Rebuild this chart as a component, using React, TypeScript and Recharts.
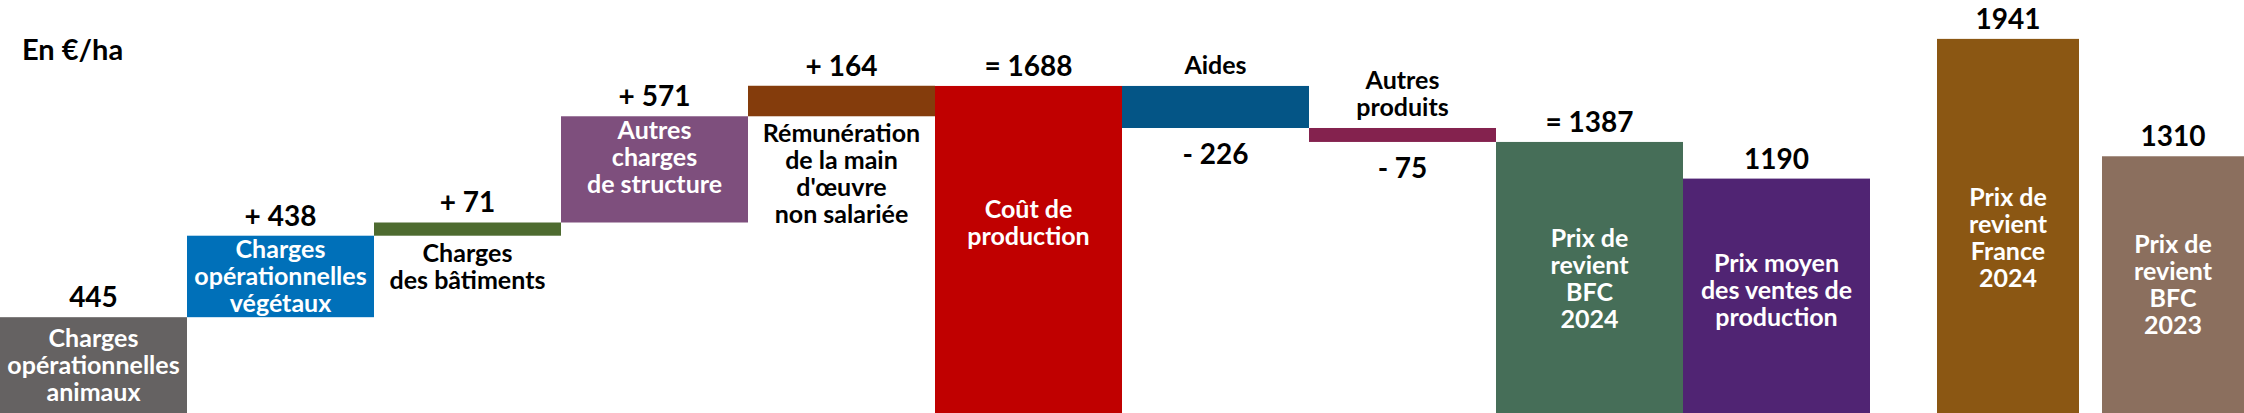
import React from "react";
import { BarChart, Bar, XAxis, YAxis } from "recharts";

// waterfall part (en €/ha)
const categories = [
  "Charges\nopérationnelles\nanimaux",
  "Charges\nopérationnelles\nvégétaux",
  "Charges\ndes bâtiments",
  "Autres\ncharges\nde structure",
  "Rémunération\nde la main\nd'œuvre\nnon salariée",
  "Coût de\nproduction",
  "Aides",
  "Autres\nproduits",
  "Prix de\nrevient\nBFC\n2024",
  "Prix moyen\ndes ventes de\nproduction",
];
const values = [445, 438, 71, 571, 164, 1688, -226, -75, 1387, 1190];
const isTotal = [true, false, false, false, false, true, false, false, true, true];
const valueLabels = ["445", "+ 438", "+ 71", "+ 571", "+ 164", "= 1688", "- 226", "- 75", "= 1387", "1190"];

// comparison bars
const compareCategories = ["Prix de\nrevient\nFrance\n2024", "Prix de\nrevient\nBFC\n2023"];
const compareValues = [1941, 1310];
const compareLabels = ["1941", "1310"];

const colors = [
  "#656262", "#0070B9", "#4E6B30", "#7E4F7D", "#843C0C",
  "#C00000", "#045586", "#84224E", "#466E58", "#502473",
];
const compareColors = ["#8B5713", "#8B6F5E"];
const namePlacement = [
  "inside", "inside", "below", "inside", "below",
  "inside", "above", "above", "inside", "inside",
];
// small vertical nudges for the category text
const nameNudge = [0, 0, 0, -12, 0, -27, 0, 0, 1, -6];
const compareNudge = [12, 0];

const Y_MIN = -70;
const Y_MAX = 2150;
const FONT = "Lato, 'Open Sans', sans-serif";
const H = 413;

const buildWaterfall = () => {
  let running = 0;
  return categories.map((name, i) => {
    const v = values[i];
    let range: [number, number];
    if (isTotal[i]) {
      range = [Y_MIN, v];
      running = v;
    } else {
      const next = running + v;
      range = [Math.min(running, next), Math.max(running, next)];
      running = next;
    }
    return {
      name,
      range,
      value: v,
      label: valueLabels[i],
      color: colors[i],
      placement: namePlacement[i],
      nudge: nameNudge[i],
    };
  });
};

const waterfall = buildWaterfall();
const compareData = compareCategories.map((name, i) => ({
  name,
  range: [Y_MIN, compareValues[i]],
  value: compareValues[i],
  label: compareLabels[i],
  color: compareColors[i],
  placement: "inside",
  nudge: compareNudge[i],
}));

const BarWithLabels = (props: any) => {
  const { x, y, width, height, payload } = props;
  if (x == null || payload == null) return null;
  const top = Math.min(y, y + height);
  const h = Math.abs(height);
  const cx = x + width / 2;
  const lines: string[] = payload.name.split("\n");
  const L = 27;
  const n = lines.length;
  const negative = payload.value < 0;
  const valueY = negative ? top + h + 36 : top - 10;

  let firstY = 0;
  if (payload.placement === "inside") firstY = top + h / 2 - ((n - 1) * L) / 2 + 9;
  else if (payload.placement === "below") firstY = top + h + 26;
  else firstY = top - 12 - (n - 1) * L;
  firstY += payload.nudge || 0;
  const nameColor = payload.placement === "inside" ? "#FFFFFF" : "#000000";

  return (
    <g>
      <rect x={x} y={top} width={width} height={h} fill={payload.color} />
      <text x={cx} y={valueY} textAnchor="middle" fontFamily={FONT} fontWeight={700} fontSize={28} fill="#000">
        {payload.label}
      </text>
      {lines.map((line, i) => (
        <text
          key={i}
          x={cx}
          y={firstY + i * L}
          textAnchor="middle"
          fontFamily={FONT}
          fontWeight={700}
          fontSize={25}
          fill={nameColor}
        >
          {line}
        </text>
      ))}
    </g>
  );
};

export default function App() {
  return (
    <div
      style={{
        position: "absolute",
        top: 0,
        left: 0,
        width: 2244,
        height: H,
        overflow: "hidden",
        background: "#fff",
      }}
    >
      <div style={{ position: "absolute", left: 0, top: 0 }}>
        <BarChart width={1870} height={H} data={waterfall} margin={{ top: 0, right: 0, bottom: 0, left: 0 }} barCategoryGap={0}>
          <XAxis dataKey="name" hide />
          <YAxis hide type="number" domain={[Y_MIN, Y_MAX]} allowDataOverflow />
          <Bar dataKey="range" isAnimationActive={false} shape={<BarWithLabels />} />
        </BarChart>
      </div>
      <div style={{ position: "absolute", left: 1870, top: 0 }}>
        <BarChart width={385} height={H} data={compareData} margin={{ top: 0, right: 0, bottom: 0, left: 55 }} barSize={142}>
          <XAxis dataKey="name" hide />
          <YAxis hide type="number" domain={[Y_MIN, Y_MAX]} allowDataOverflow />
          <Bar dataKey="range" isAnimationActive={false} shape={<BarWithLabels />} />
        </BarChart>
      </div>
      <div
        style={{
          position: "absolute",
          left: 22,
          top: 34,
          fontFamily: FONT,
          fontWeight: 700,
          fontSize: 29,
          lineHeight: "29px",
          color: "#000",
        }}
      >
        En €/ha
      </div>
    </div>
  );
}
